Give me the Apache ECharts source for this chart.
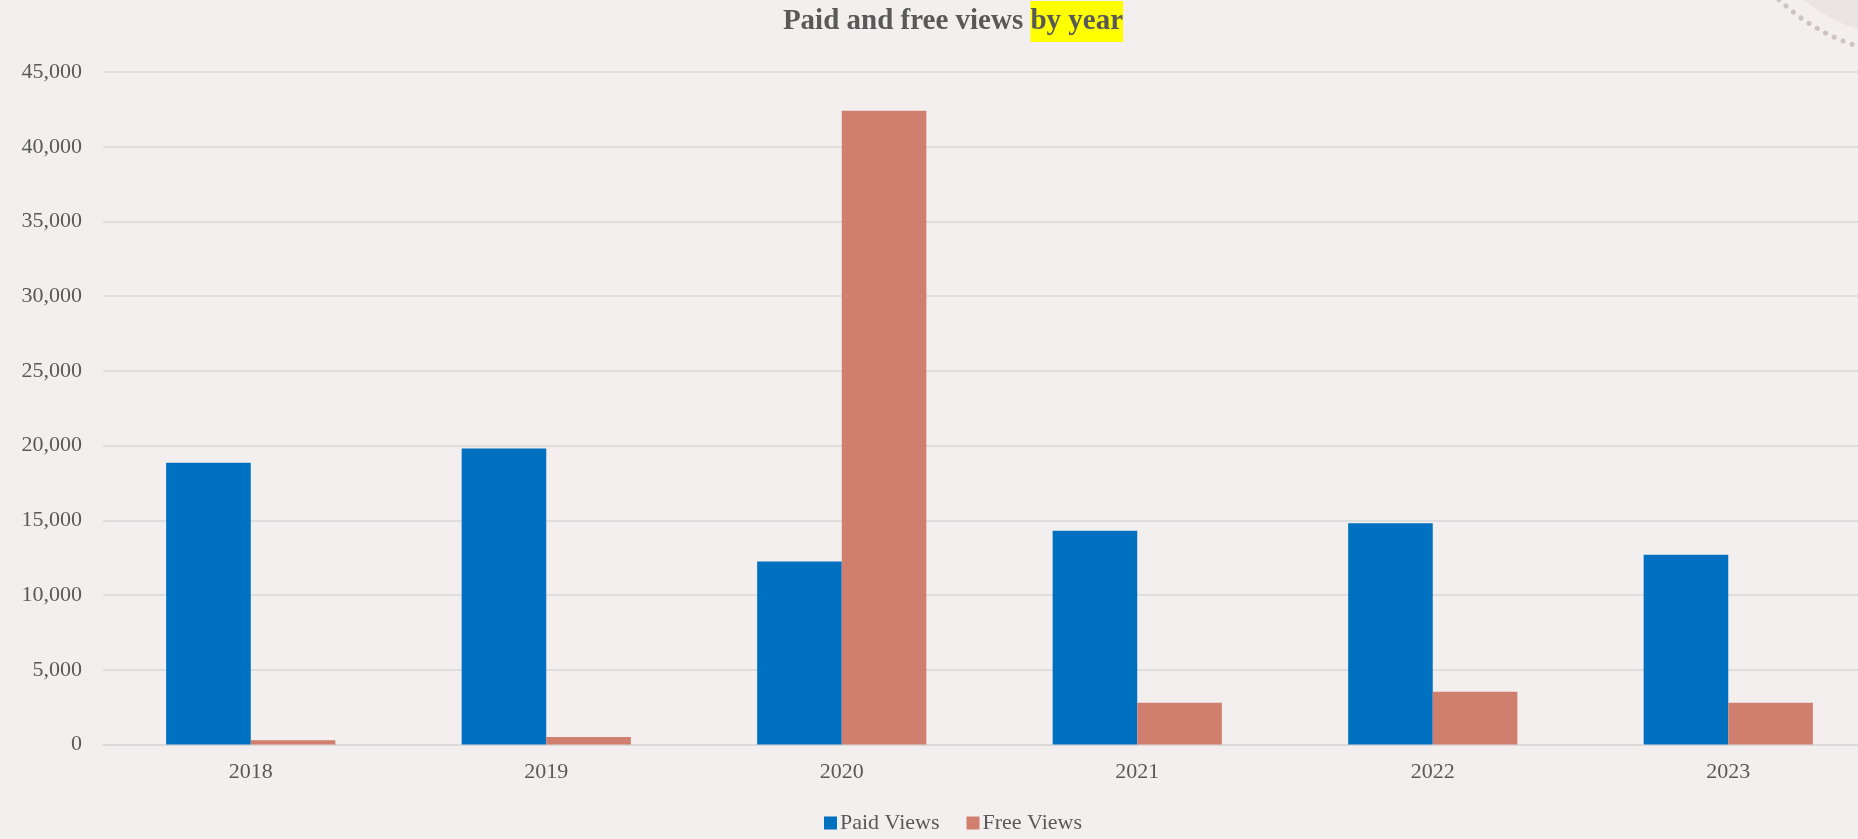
<!DOCTYPE html>
<html>
<head>
<meta charset="utf-8">
<script src="https://cdn.jsdelivr.net/npm/echarts@6/dist/echarts.min.js"></script>
<style>
html,body{margin:0;padding:0;background:#F3EFEE;overflow:hidden;width:1858px;height:839px;}
#chart{width:1906px;height:839px;}
</style>
</head>
<body>
<div id="chart"></div>
<script>
const years = ['2018', '2019', '2020', '2021', '2022', '2023'];
const paidViews = [18850, 19800, 12250, 14300, 14800, 12700];
const freeViews = [280, 500, 42400, 2800, 3530, 2800];
const seriesNames = ['Paid Views', 'Free Views'];

const chart = echarts.init(document.getElementById('chart'));
const fontFamily = '"Liberation Serif", "DejaVu Serif", serif';
const textColor = '#595959';
chart.setOption({
  backgroundColor: '#F3EFEE',
  animation: false,
  graphic: [
    { type: 'circle', shape: { cx: 1916, cy: -142, r: 181 }, style: { fill: '#EAE4E2' }, z: -1 },
    { type: 'circle', shape: { cx: 1916, cy: -142, r: 197 }, style: { fill: 'none', stroke: '#CDC4C2', lineWidth: 5, lineDash: [0.1, 9.5], lineCap: 'round' }, z: -1 }
  ],
  title: {
    text: 'Paid and free views {hl|by year}',
    left: 'center',
    top: -4,
    textStyle: {
      fontFamily: fontFamily,
      fontSize: 29,
      fontWeight: 'bold',
      color: textColor,
      rich: {
        hl: {
          fontFamily: fontFamily,
          fontSize: 29,
          fontWeight: 'bold',
          color: textColor,
          backgroundColor: '#FFFF00',
          padding: [6, 0, 6, 0]
        }
      }
    }
  },
  legend: {
    data: seriesNames,
    bottom: 0,
    left: 'center',
    icon: 'rect',
    itemWidth: 13,
    itemHeight: 13,
    itemGap: 27,
    textStyle: { fontFamily: fontFamily, fontSize: 22, color: textColor, padding: [0, 0, 0, -2] }
  },
  grid: { left: 103, top: 72, width: 1773, height: 672.5, containLabel: false },
  xAxis: {
    type: 'category',
    data: years,
    axisLine: { lineStyle: { color: '#D9D9D9', width: 1.5 } },
    axisTick: { show: false },
    axisLabel: { fontFamily: fontFamily, fontSize: 22, color: textColor, margin: 17 }
  },
  yAxis: {
    type: 'value',
    min: 0,
    max: 45000,
    interval: 5000,
    axisLine: { show: false },
    axisTick: { show: false },
    splitLine: { lineStyle: { color: '#D9D9D9', width: 1.5 } },
    axisLabel: {
      fontFamily: fontFamily, fontSize: 22, color: textColor, margin: 21,
      formatter: v => v.toLocaleString('en-US')
    }
  },
  series: [
    { name: seriesNames[0], type: 'bar', data: paidViews, barWidth: 84.6, barGap: '0%', itemStyle: { color: '#0070C0' } },
    { name: seriesNames[1], type: 'bar', data: freeViews, barWidth: 84.6, barGap: '0%', itemStyle: { color: '#D07E6D' } }
  ]
});
</script>
</body>
</html>
